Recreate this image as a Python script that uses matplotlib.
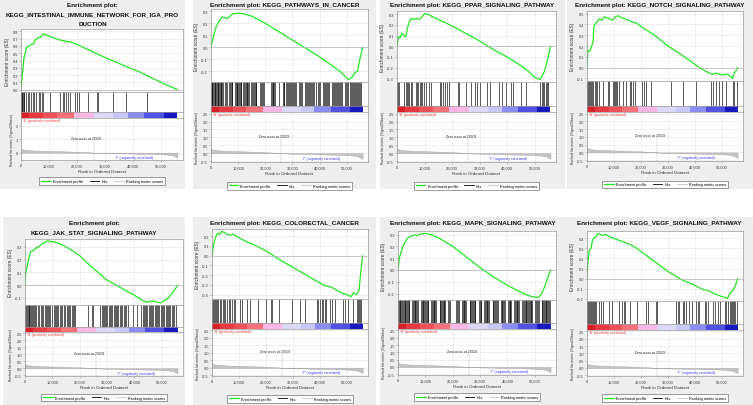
import matplotlib
matplotlib.use("Agg")
import matplotlib.pyplot as plt
from matplotlib.patches import Rectangle
from matplotlib.lines import Line2D
import numpy as np

plt.rcParams["font.family"] = ["Liberation Sans", "DejaVu Sans"]

W, H = 753, 406

# ---- shared data (ranks in thousands) ----
metric_rank = [0, 0.2, 1, 3, 6, 10, 15, 20, 25, 25.9, 30, 40, 48, 52, 54, 55, 55.8]
metric_val = [0.35, 0.28, 0.22, 0.18, 0.15, 0.13, 0.10, 0.07, 0.02, 0.0,
              -0.03, -0.07, -0.10, -0.14, -0.20, -0.28, -0.35]
zero_cross = 25.9
cb_edges = [0, 3, 8, 13, 19, 26, 33, 38, 44, 51, 55.8]
cb_colors = ["#d82028", "#e83840", "#f05058", "#f87078", "#f8b8e4",
             "#dcd8f8", "#c8c8f8", "#8c8cf4", "#5050e4", "#1818c0"]

titles = [
    ["Enrichment plot:", "KEGG_INTESTINAL_IMMUNE_NETWORK_FOR_IGA_PRO", "DUCTION"],
    ["Enrichment plot: KEGG_PATHWAYS_IN_CANCER"],
    ["Enrichment plot: KEGG_PPAR_SIGNALING_PATHWAY"],
    ["Enrichment plot: KEGG_NOTCH_SIGNALING_PATHWAY"],
    ["Enrichment plot:", "KEGG_JAK_STAT_SIGNALING_PATHWAY"],
    ["Enrichment plot: KEGG_COLORECTAL_CANCER"],
    ["Enrichment plot: KEGG_MAPK_SIGNALING_PATHWAY"],
    ["Enrichment plot: KEGG_VEGF_SIGNALING_PATHWAY"],
]

# ---- running enrichment score per pathway ----
es_iga_x = [0, 0.3, 0.6, 1.0, 1.5, 2.0, 3.0, 3.5, 4.5, 5.0, 6.0, 7.0, 8.0, 9.0,
            11, 14, 18, 20, 25, 30, 35, 38, 42, 45, 50, 55.8]
es_iga_y = [0, 0.14, 0.25, 0.42, 0.50, 0.58, 0.60, 0.62, 0.63, 0.68, 0.71, 0.72,
            0.765, 0.75, 0.72, 0.68, 0.65, 0.62, 0.53, 0.44, 0.36, 0.31, 0.25,
            0.19, 0.10, 0.0]
es_cancer_x = [0, 0.5, 1, 2, 3, 4, 5, 6, 7, 8, 10, 12, 15, 20, 25, 30, 35, 40,
               45, 48, 50.5, 52, 53, 54, 54.8, 55.8]
es_cancer_y = [0, 0.05, 0.10, 0.18, 0.22, 0.25, 0.25, 0.24, 0.26, 0.28, 0.285,
               0.28, 0.26, 0.20, 0.13, 0.06, -0.01, -0.08, -0.16, -0.21, -0.27,
               -0.25, -0.21, -0.20, -0.10, 0.0]
es_ppar_x = [0, 0.3, 0.7, 1.2, 1.8, 2.5, 3.2, 3.8, 4.5, 5.2, 6, 7, 8, 9, 10, 11,
             12.5, 15, 20, 25, 30, 35, 40, 45, 48, 50, 51, 52, 52.5, 53.5, 54.5,
             55.8]
es_ppar_y = [0, 0.05, 0.09, 0.08, 0.12, 0.10, 0.09, 0.17, 0.23, 0.26, 0.25, 0.26,
             0.25, 0.27, 0.305, 0.30, 0.28, 0.25, 0.19, 0.12, 0.05, -0.03, -0.10,
             -0.18, -0.24, -0.29, -0.30, -0.31, -0.29, -0.24, -0.15, 0.0]
es_notch_x = [0, 0.3, 1, 1.5, 2, 2.3, 2.5, 3, 3.5, 4.5, 5.5, 6.5, 7.5, 8.5, 9.5,
              10.5, 11.5, 13, 15, 17, 18.5, 20, 25, 30, 35, 40, 43, 46, 47, 48,
              50, 52, 53, 54, 54.5, 55, 55.8]
es_notch_y = [0, 0.16, 0.15, 0.18, 0.22, 0.25, 0.38, 0.40, 0.42, 0.45, 0.44, 0.47,
              0.46, 0.45, 0.44, 0.47, 0.48, 0.46, 0.44, 0.42, 0.41, 0.38, 0.30,
              0.20, 0.12, 0.03, -0.02, -0.06, -0.06, -0.05, -0.07, -0.06, -0.08,
              -0.10, -0.05, -0.04, 0.0]
es_jak_x = [0, 0.3, 0.8, 1.5, 2, 3, 4, 5, 6, 7, 8, 9, 10, 12, 15, 18, 20, 25, 30,
            35, 40, 43, 44.5, 46, 48, 49.5, 51, 52.5, 54, 55, 55.8]
es_jak_y = [0, 0.10, 0.15, 0.22, 0.26, 0.27, 0.29, 0.30, 0.32, 0.33, 0.345, 0.345,
            0.34, 0.33, 0.30, 0.26, 0.23, 0.13, 0.04, -0.02, -0.08, -0.12, -0.135,
            -0.125, -0.13, -0.14, -0.12, -0.10, -0.06, -0.03, 0.0]
es_colo_x = [0, 0.5, 1.2, 2, 3, 3.5, 4.5, 5.5, 7, 8, 9, 11, 13, 15, 20, 25, 30,
             35, 40, 42, 44, 46, 48, 50, 51.5, 52.5, 53.5, 54.5, 55, 55.8]
es_colo_y = [0, 0.10, 0.18, 0.23, 0.22, 0.25, 0.24, 0.22, 0.21, 0.22, 0.20, 0.17,
             0.14, 0.12, 0.05, -0.04, -0.12, -0.20, -0.28, -0.31, -0.32, -0.35,
             -0.38, -0.40, -0.42, -0.38, -0.40, -0.35, -0.20, 0.0]
es_mapk_x = [0, 0.5, 1.5, 2.5, 3.5, 5, 6, 7, 8, 10, 12, 15, 20, 25, 30, 35, 40,
             45, 48, 50, 51, 52, 53, 54, 55, 55.8]
es_mapk_y = [0, 0.10, 0.18, 0.23, 0.27, 0.29, 0.295, 0.29, 0.305, 0.31, 0.30,
             0.27, 0.20, 0.11, 0.02, -0.06, -0.13, -0.19, -0.22, -0.23, -0.235,
             -0.22, -0.18, -0.12, -0.05, 0.0]
es_vegf_x = [0, 0.3, 0.8, 1.5, 2, 2.5, 3.5, 4, 5, 6, 7, 8, 10, 12, 14, 16, 18, 20,
             25, 30, 35, 40, 43, 45, 47, 50, 51.5, 52, 53, 54, 55, 55.8]
es_vegf_y = [0, 0.15, 0.28, 0.30, 0.38, 0.40, 0.42, 0.45, 0.44, 0.43, 0.44, 0.42,
             0.40, 0.38, 0.36, 0.34, 0.31, 0.27, 0.17, 0.07, -0.01, -0.07, -0.11,
             -0.12, -0.15, -0.18, -0.19, -0.20, -0.15, -0.12, -0.07, 0.0]

# ---- hit positions (ranks in thousands) ----
hits_iga = [0.1, 0.3, 0.5, 0.7, 0.9, 1.2, 1.8, 2.4, 3.0, 3.6, 4.2, 4.8, 5.4, 6.4,
            6.8, 7.6, 8.0, 10.2, 13.8, 15.0, 15.4, 16.0, 16.8, 17.4, 19.3, 20.0,
            20.6, 23.8, 27.0, 27.5, 33.0, 37.6, 45.0]
hits_cancer = [0.1, 0.3, 0.5, 0.8, 1.0, 1.3, 1.5, 1.8, 2.1, 2.4, 2.6, 2.9, 3.2,
               3.5, 3.8, 4.1, 4.4, 5.2, 5.5, 5.8, 6.7, 7.0, 7.3, 7.6, 7.9, 8.8,
               9.1, 9.4, 9.7, 10.0, 10.3, 10.6, 10.9, 11.2, 11.9, 12.2, 12.5,
               12.8, 13.1, 13.4, 13.7, 14.0, 14.9, 15.2, 15.5, 15.8, 16.1, 16.4,
               16.7, 18.2, 18.5, 18.8, 19.1, 19.4, 22.1, 22.4, 22.7, 23.0, 23.3,
               23.6, 25.2, 26.4, 26.7, 27.0, 27.7, 28.0, 28.3, 28.6, 29.0, 29.4,
               29.8, 30.2, 30.6, 31.0, 31.4, 32.5, 32.9, 33.3, 33.6, 34.5, 34.9,
               35.3, 35.7, 36.1, 36.5, 36.9, 37.3, 37.7, 38.1, 38.5, 39.5, 39.9,
               40.3, 41.1, 41.5, 41.9, 42.3, 42.7, 43.1, 43.5, 44.4, 44.8, 45.2,
               45.6, 46.0, 46.4, 46.8, 47.2, 47.6, 48.0, 48.4, 49.4, 49.8, 50.2,
               50.6, 51.0, 51.4, 51.8, 52.2, 52.6, 53.0, 53.4, 53.8, 54.2, 54.6,
               55.0, 55.4]
hits_ppar = [0.1, 0.4, 0.7, 2.7, 3.2, 3.6, 4.0, 4.5, 5.0, 5.5, 6.9, 7.3, 7.8, 8.3,
             8.7, 9.2, 9.7, 10.6, 11.8, 12.5, 15.5, 16.0, 16.6, 17.3, 18.1, 18.8,
             22.2, 22.7, 25.2, 27.0, 28.2, 29.0, 30.2, 32.6, 33.8, 36.9, 38.1,
             39.6, 41.6, 42.2, 45.2, 47.0, 52.0, 52.6, 53.1, 53.6, 54.0, 54.5, 55.0]
hits_notch = [0.1, 0.4, 0.7, 1.0, 1.4, 1.8, 2.3, 2.8, 3.3, 3.8, 4.4, 5.9, 7.7, 8.2,
              9.6, 10.0, 10.4, 10.9, 11.3, 11.8, 13.3, 14.5, 15.8, 16.3, 17.0,
              17.6, 20.2, 21.0, 21.7, 23.8, 31.2, 35.6, 40.4, 46.0, 46.5, 47.8,
              49.0, 50.2, 51.5, 54.0, 54.5, 55.4]
hits_jak = [0.1, 0.4, 0.7, 1.0, 1.3, 1.6, 2.0, 2.3, 2.7, 3.0, 3.4, 3.8, 4.2, 4.9,
            5.3, 5.7, 6.1, 6.5, 7.3, 7.7, 8.1, 8.5, 8.9, 9.3, 9.7, 10.5, 10.9,
            11.3, 11.7, 12.1, 12.9, 13.3, 13.7, 14.1, 14.5, 15.3, 15.7, 16.1,
            16.5, 17.2, 17.6, 18.0, 18.4, 23.0, 24.4, 25.0, 27.6, 28.0, 28.4,
            28.8, 29.2, 29.6, 30.0, 30.6, 31.0, 31.4, 31.8, 32.4, 32.8, 33.2,
            33.6, 34.2, 34.6, 35.0, 35.6, 36.2, 36.6, 37.0, 37.6, 39.6, 40.8,
            42.6, 43.0, 43.4, 43.8, 44.2, 44.6, 45.2, 45.6, 46.0, 46.4, 47.0,
            47.4, 47.8, 48.2, 48.8, 49.2, 49.6, 50.2, 50.6, 51.0, 51.6, 52.0,
            52.4, 52.8, 53.2, 53.6, 54.0, 54.6, 55.2]
hits_colo = [0.1, 0.4, 0.7, 1.1, 1.5, 1.9, 2.4, 2.9, 3.4, 3.9, 4.4, 5.0, 5.6, 6.2,
             6.8, 7.4, 8.0, 8.6, 10.5, 11.3, 13.0, 14.2, 17.0, 20.0, 21.8, 22.4,
             25.0, 29.5, 32.5, 34.5, 38.8, 39.4, 40.0, 40.6, 41.2, 41.8, 42.4,
             43.8, 44.6, 45.5, 48.6, 49.4, 50.4, 52.4, 53.6, 54.0, 54.4, 54.8,
             55.2]
hits_mapk = [0.1, 0.3, 0.6, 0.9, 1.2, 1.5, 1.8, 2.1, 2.4, 2.7, 3.0, 3.3, 3.6, 3.9,
             4.2, 5.2, 5.5, 5.8, 6.1, 6.4, 6.7, 7.0, 7.3, 8.4, 8.7, 9.0, 9.3, 9.6,
             9.9, 10.2, 10.5, 10.8, 11.1, 12.1, 12.4, 12.7, 13.0, 13.3, 13.6, 14.0,
             15.2, 15.5, 15.8, 16.1, 16.4, 16.7, 17.0, 17.3, 18.4, 18.7, 19.0,
             21.3, 21.6, 21.9, 22.2, 23.4, 23.7, 24.0, 24.3, 24.6, 24.9, 26.2,
             26.5, 26.8, 27.1, 27.4, 27.7, 28.0, 28.3, 29.6, 29.9, 30.2, 30.5,
             31.5, 31.8, 32.1, 32.4, 32.7, 33.0, 33.3, 34.6, 34.9, 35.2, 35.5,
             35.8, 36.1, 36.4, 37.6, 37.9, 38.2, 38.5, 38.8, 39.1, 40.2, 40.5,
             40.8, 41.1, 41.4, 42.5, 42.8, 43.1, 43.4, 43.7, 44.0, 44.3, 45.5,
             45.8, 46.1, 46.4, 46.7, 47.0, 47.3, 47.6, 47.9, 48.2, 48.5, 48.8,
             49.1, 50.2, 50.5, 50.8, 51.1, 51.4, 52.5, 52.8, 53.1, 53.4, 53.7,
             54.0, 54.3, 54.6, 54.9, 55.2, 55.5]
hits_vegf = [0.1, 0.4, 0.7, 1.0, 1.4, 1.8, 2.2, 2.6, 3.0, 3.4, 4.6, 5.2, 5.8, 8.2,
             9.4, 11.8, 13.0, 13.6, 14.2, 16.0, 18.4, 22.0, 22.6, 25.4, 25.9,
             33.0, 33.6, 34.2, 35.4, 36.0, 36.6, 37.8, 39.0, 40.4, 41.0, 41.6,
             43.6, 44.2, 45.0, 46.8, 47.4, 48.6, 49.2, 51.0, 51.6, 52.2, 52.8,
             53.4, 53.8, 54.2, 54.6, 55.0, 55.4]

es_x = [es_iga_x, es_cancer_x, es_ppar_x, es_notch_x,
        es_jak_x, es_colo_x, es_mapk_x, es_vegf_x]
es_y = [es_iga_y, es_cancer_y, es_ppar_y, es_notch_y,
        es_jak_y, es_colo_y, es_mapk_y, es_vegf_y]
hits = [hits_iga, hits_cancer, hits_ppar, hits_notch,
        hits_jak, hits_colo, hits_mapk, hits_vegf]
es_ticks = [
    [0.0, 0.1, 0.2, 0.3, 0.4, 0.5, 0.6, 0.7, 0.8],
    [-0.2, -0.1, 0.0, 0.1, 0.2, 0.3],
    [-0.3, -0.2, -0.1, 0.0, 0.1, 0.2, 0.3],
    [-0.1, 0.0, 0.1, 0.2, 0.3, 0.4, 0.5],
    [-0.1, 0.0, 0.1, 0.2, 0.3],
    [-0.4, -0.3, -0.2, -0.1, 0.0, 0.1, 0.2],
    [-0.2, -0.1, 0.0, 0.1, 0.2, 0.3],
    [-0.2, -0.1, 0.0, 0.1, 0.2, 0.3, 0.4],
]
metric_ticks_int = [0, 1, 2]
metric_ticks_half = [-0.5, 0.0, 0.5, 1.0, 1.5, 2.0, 2.5]
x_ticks = [0, 10, 20, 30, 40, 50]

# ---- layout in pixels: gray box, plot left/right, title rows,
#      es top, es bottom, hits bottom, colorbar bottom, metric bottom ----
layout = [
    dict(box=(0, 0, 185, 190), l=21, r=183, ty=[5, 15, 25], v=[30, 93, 113, 119, 161]),
    dict(box=(193, 0, 376, 190), l=211, r=368, ty=[5], v=[10, 83, 107, 113, 163]),
    dict(box=(380, 0, 565, 190), l=397, r=556, ty=[5], v=[12, 83, 107, 113, 163]),
    dict(box=(567, 0, 753, 190), l=587, r=743, ty=[5], v=[12, 82, 107, 113, 162]),
    dict(box=(3, 218, 185, 406), l=25, r=183, ty=[224, 233], v=[240, 306, 328, 333, 377]),
    dict(box=(193, 218, 376, 406), l=212, r=368, ty=[224], v=[230, 300, 324, 330, 377]),
    dict(box=(380, 218, 565, 406), l=398, r=556, ty=[224], v=[232, 301, 324, 330, 376]),
    dict(box=(565, 218, 753, 406), l=587, r=743, ty=[224], v=[232, 302, 325, 331, 377]),
]

fig = plt.figure(figsize=(W / 100, H / 100), dpi=100)
fig.patch.set_facecolor("white")

XMAX = 57.8
FRAME = "#9a9a9a"
GRID = "#e4e4e4"
TICK_FS = 2.8


def add_ax(l, t, r, b):
    return fig.add_axes([l / W, 1 - b / H, (r - l) / W, (b - t) / H])


def style(ax):
    for s in ax.spines.values():
        s.set_color(FRAME)
        s.set_linewidth(0.5)
    ax.tick_params(length=1.2, width=0.4, color=FRAME, labelsize=TICK_FS, pad=1,
                   labelcolor="#333333")
    ax.set_xlim(0, XMAX)


def draw_panel(i):
    g = layout[i]
    x0, y0, x1, y1 = g["box"]
    fig.patches.append(Rectangle((x0 / W, 1 - y1 / H), (x1 - x0) / W, (y1 - y0) / H,
                                 transform=fig.transFigure, facecolor="#eeeeee",
                                 edgecolor="none", zorder=-10))
    cx = (x0 + x1) / 2
    for line, ty in zip(titles[i], g["ty"]):
        fig.text(cx / W, 1 - ty / H, line, ha="center", va="center",
                 fontsize=4.6, fontweight="bold", color="#111111")
    l, r = g["l"], g["r"]
    t_es, b_es, b_hit, b_cb, b_met = g["v"]

    # enrichment score
    ax = add_ax(l, t_es, r, b_es)
    style(ax)
    ax.plot(es_x[i], es_y[i], color="#22e622", lw=0.9)
    ticks = es_ticks[i]
    span = ticks[-1] - ticks[0]
    lo = min(min(es_y[i]), ticks[0])
    hi = max(max(es_y[i]), ticks[-1])
    ax.set_ylim(lo - 0.04 * span, hi + 0.04 * span)
    ax.set_yticks(ticks)
    ax.set_yticklabels([f"{v:.1f}" for v in ticks])
    ax.set_xticks([x for x in x_ticks])
    ax.tick_params(axis="x", length=0, labelbottom=False)
    ax.grid(True, color=GRID, lw=0.4)
    ax.set_axisbelow(True)
    ax.axhline(0, color="#b4b4b4", lw=0.5)
    ax.set_ylabel("Enrichment score (ES)", fontsize=3.4, labelpad=1.5, color="#333333")

    # hits
    ax = add_ax(l, b_es, r, b_hit)
    style(ax)
    ax.vlines(hits[i], 0, 1, color="black", lw=0.45)
    ax.set_ylim(0, 1)
    ax.set_xticks([])
    ax.set_yticks([])

    # colour bar
    ax = add_ax(l, b_hit, r, b_cb)
    style(ax)
    for k in range(len(cb_colors)):
        ax.axvspan(cb_edges[k], cb_edges[k + 1], color=cb_colors[k], lw=0)
    ax.set_xticks([])
    ax.set_yticks([])

    # ranked list metric
    ax = add_ax(l, b_cb, r, b_met)
    style(ax)
    ax.fill_between(metric_rank, metric_val, 0, color="#c4c4c4", lw=0.3,
                    edgecolor="#a0a0a0")
    ax.set_ylim(-0.55, 2.6)
    mt = metric_ticks_int if i == 0 else metric_ticks_half
    ax.set_yticks(mt)
    ax.set_yticklabels([str(v) for v in mt] if i == 0 else [f"{v:.1f}" for v in mt])
    ax.set_xticks(x_ticks)
    ax.set_xticklabels([f"{int(v * 1000):,}" for v in x_ticks])
    ax.grid(True, color=GRID, lw=0.4)
    ax.set_axisbelow(True)
    ax.vlines(zero_cross, -0.55, 0.95, color="#888888", lw=0.35, linestyles=(0, (2, 2)))
    ax.text(zero_cross - 2.5, 1.1, "Zero cross at 25909", fontsize=2.4, ha="center",
            va="center", color="#222222")
    ax.text(0.6, 2.45, "'N' (positively correlated)", fontsize=2.4, ha="left",
            va="center", color="#ee3030")
    ax.text(40.5, -0.3, "'Y' (negatively correlated)", fontsize=2.4, ha="center",
            va="center", color="#3030ee")
    ax.set_ylabel("Ranked list metric (Signal2Noise)", fontsize=2.5, labelpad=1.5,
                  color="#333333")
    ax.set_xlabel("Rank in Ordered Dataset", fontsize=3.2, labelpad=1.5, color="#333333")

    handles = [Line2D([], [], color="#22e622", lw=0.9),
               Line2D([], [], color="black", lw=0.6),
               Line2D([], [], color="#c8c8c8", lw=0.6)]
    leg = ax.legend(handles, ["Enrichment profile", "Hits", "Ranking metric scores"],
                    loc="upper center", bbox_to_anchor=(0.5, -0.36), ncol=3,
                    fontsize=2.7, frameon=True, fancybox=False, handlelength=2.6,
                    handletextpad=0.6, columnspacing=1.6, borderpad=0.5)
    leg.get_frame().set_edgecolor("#555555")
    leg.get_frame().set_linewidth(0.5)


for i in range(8):
    draw_panel(i)

fig.savefig("out.png", dpi=100)
